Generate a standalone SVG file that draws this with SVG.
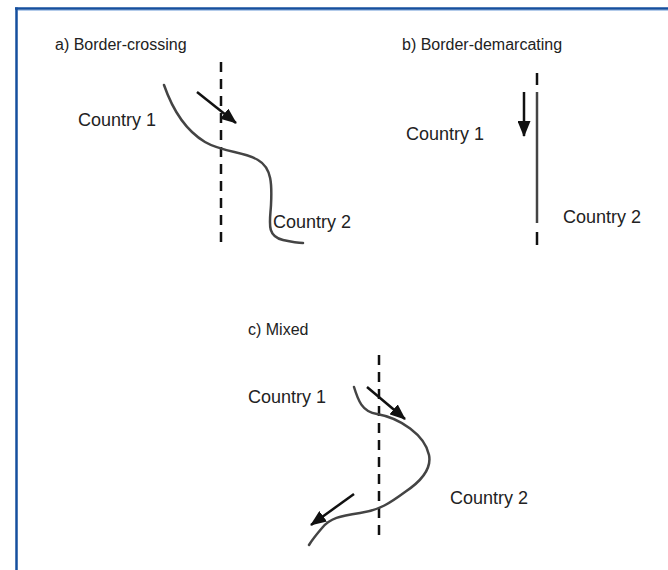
<svg xmlns="http://www.w3.org/2000/svg" width="668" height="570" viewBox="0 0 668 570">
<style>
.t{font-family:"Liberation Sans",Arial,sans-serif;font-size:16px;fill:#222}
.c{font-family:"Liberation Sans",Arial,sans-serif;font-size:18px;fill:#222}
.river{fill:none;stroke:#444;stroke-width:2.5;stroke-linecap:round}
.border{fill:none;stroke:#111;stroke-width:2.5;stroke-dasharray:10 7}
.arrow{stroke:#111;stroke-width:2.5;fill:none}
</style>
<defs>
<marker id="ah" markerUnits="userSpaceOnUse" markerWidth="17" markerHeight="13" refX="15" refY="6.5" orient="auto">
<path d="M0,0 L16,6.5 L0,13 z" fill="#111"/>
</marker>
</defs>
<rect width="668" height="570" fill="#fff"/>
<g id="frame">
<line x1="15" y1="8.5" x2="668" y2="8.5" stroke="#154f9e" stroke-width="2.5"/>
<line x1="18" y1="10.5" x2="668" y2="10.5" stroke="#b3cbea" stroke-width="1.2"/>
<line x1="16.5" y1="7.5" x2="16.5" y2="570" stroke="#154f9e" stroke-width="2.5"/>
</g>
<g id="panel-a">
<text class="t" x="55" y="50">a) Border-crossing</text>
<line class="border" x1="221" y1="62" x2="221" y2="246"/>
<path class="river" d="M164,85 C172,108 185,130 205,142 C222,152 245,152 258,160 C272,168 272,185 271,205 C270,222 266,236 283,240 C292,242 298,243 303,243"/>
<text class="c" x="78" y="126">Country 1</text>
<text class="c" x="273" y="228">Country 2</text>
</g>
<g id="panel-b">
<text class="t" x="402" y="50">b) Border-demarcating</text>
<line x1="537" y1="73" x2="537" y2="85" stroke="#111" stroke-width="2.5"/>
<line x1="537" y1="92" x2="537" y2="223" stroke="#444" stroke-width="2.5"/>
<line x1="537" y1="232" x2="537" y2="245" stroke="#111" stroke-width="2.5"/>
<text class="c" x="406" y="140">Country 1</text>
<text class="c" x="563" y="223">Country 2</text>
</g>
<g id="panel-c">
<text class="t" x="248" y="335">c) Mixed</text>
<line class="border" x1="379" y1="355" x2="379" y2="538"/>
<path class="river" d="M354,387 C358,400 362,412 377,414 C400,418 425,435 429,455 C432,470 420,482 405,492 C390,503 380,510 360,513 C340,516 330,518 322,528 C316,535 312,540 309,545"/>
<text class="c" x="248" y="403">Country 1</text>
<text class="c" x="450" y="504">Country 2</text>
</g>
<g id="connectors">
<line class="arrow" x1="197" y1="92" x2="236" y2="123" marker-end="url(#ah)"/>
<line class="arrow" x1="524" y1="92" x2="524" y2="136" marker-end="url(#ah)"/>
<line class="arrow" x1="367" y1="387" x2="405" y2="419" marker-end="url(#ah)"/>
<line class="arrow" x1="354" y1="494" x2="311" y2="525" marker-end="url(#ah)"/>
</g>
</svg>
